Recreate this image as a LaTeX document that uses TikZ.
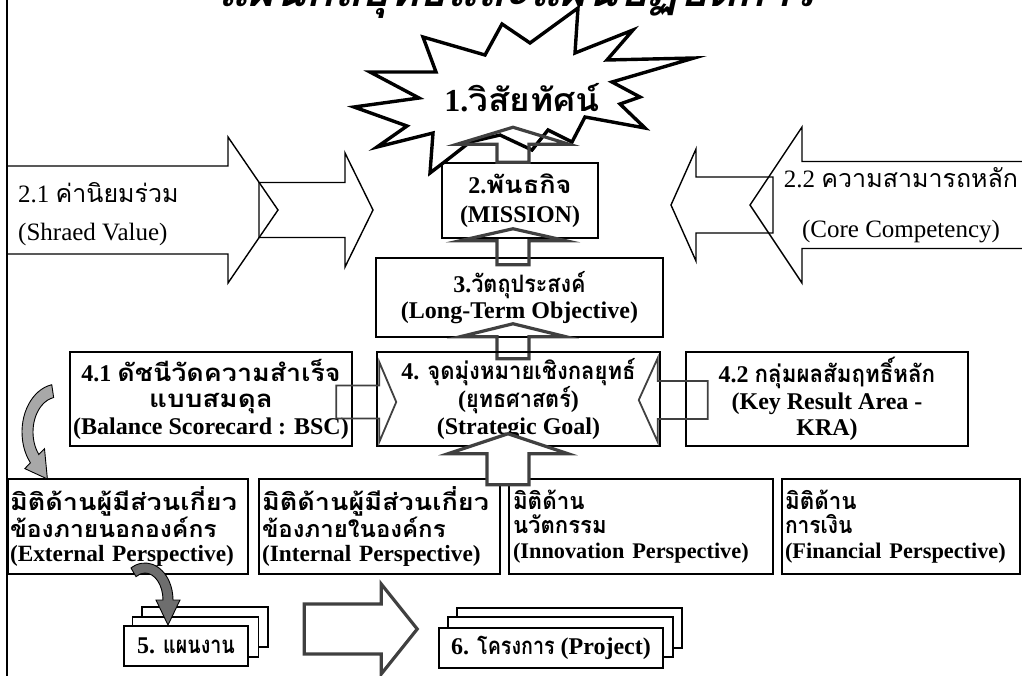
\documentclass[tikz,border=0pt]{standalone}
\usepackage{fontspec}
\usepackage{graphicx}
\usetikzlibrary{calc}
\setmainfont{Liberation Serif}
\newfontfamily\thaifont[Script=Thai]{Loma}
\newfontfamily\thaititlefont[Script=Thai,FakeSlant=0.22]{Loma}
% Thai run, optionally stretched or narrowed horizontally
\newcommand\T[2][1]{\scalebox{#1}[1]{\thaifont #2}}
% slightly narrower Latin line inside a perspective box
\newcommand\narrowline[1]{{\fontsize{22.3}{24.5}\selectfont #1}}
\definecolor{arrowdark}{HTML}{404040}
\definecolor{curvelight}{HTML}{A8A8A8}
\definecolor{curvedark}{HTML}{6E6E6E}
% block arrow drawn pointing right from its tip, then rotated:
% #1 style, #2 tip, #3 angle, #4 total length, #5 head length, #6 half body, #7 half head
\newcommand\blockarrow[7][]{%
  \draw[#1,shift={#2},rotate=#3] (0,0) -- (-#5,#7) -- (-#5,#6) -- (-#4,#6)
    -- (-#4,-#6) -- (-#5,-#6) -- (-#5,-#7) -- cycle;}
\begin{document}
\begin{tikzpicture}[x=1pt,y=-1pt,
  box/.style={draw, line width=1.5pt, inner sep=0pt, align=center,
    font=\fontsize{24}{26.5}\selectfont\bfseries},
  persp/.style={draw, line width=1.5pt, inner sep=0pt, align=left,
    minimum height=95, font=\fontsize{23.3}{24.5}\selectfont\bfseries},
  stackbox/.style={draw, line width=1.5pt, fill=white, inner sep=0pt,
    font=\fontsize{24}{27}\selectfont\bfseries},
  fatarrow/.style={draw=arrowdark, line width=3.2pt, line join=miter},
  thinarrow/.style={draw=arrowdark, line width=1.8pt},
  sidearrow/.style={draw=black, line width=1.4pt},
  sidetext/.style={font=\fontsize{25}{25}\selectfont, inner sep=0pt},
  curvearrow/.style={draw=black, line width=0.9pt}]
\clip (0,0) rectangle (1022,675);

% heading, cut by the top edge
\node[anchor=base, inner sep=0pt] (title) at (517,6)
  {\fontsize{46}{46}\selectfont\bfseries\thaititlefont แผนกลยุทธ์และแผนปฏิบัติการ};

% page frame on the left
\draw[line width=1.5pt] (7,-2) -- (7,677);

% 2.1 shared values: two arrows pointing to the mission
\blockarrow[sidearrow]{(278,210)}{0}{271}{50}{44}{73}
\blockarrow[sidearrow]{(373,210)}{0}{114}{28}{27.5}{57}
\node[sidetext, anchor=base west] (v21a) at (18,202) {2.1 \T{ค่านิยมร่วม}};
\node[sidetext, anchor=base west] (v21b) at (18,240) {(Shraed Value)};

% 2.2 core competency: two arrows pointing left
\blockarrow[sidearrow]{(750,205)}{180}{300}{52}{43.5}{78}
\blockarrow[sidearrow]{(671,205)}{180}{102}{25}{28}{56}
\node[sidetext, anchor=base] (v22a) at (901,187) {2.2 \T{ความสามารถหลัก}};
\node[sidetext, anchor=base] (v22b) at (901,237) {(Core Competency)};

% 1. vision burst
\draw[line width=3.4pt, fill=white, line join=miter]
  (578,8) -- (575,53) -- (633,30) -- (607,60) -- (694,58) -- (612,82)
  -- (640,97) -- (620,104) -- (645,128) -- (585,117) -- (572,142)
  -- (548,130) -- (532,150) -- (500,135) -- (470,142) -- (447,160)
  -- (430,173) -- (433,133) -- (377,147) -- (407,126) -- (354,107)
  -- (419,98) -- (370,72) -- (436,72) -- (423,37) -- (485,55)
  -- (502,24) -- (530,43) -- cycle;
\node[inner sep=0pt] (vision) at (522,98)
  {\fontsize{32}{32}\selectfont\bfseries 1.\T[1.1]{วิสัยทัศน์}};

% central column
\node[box, minimum width=156, minimum height=75] (b2) at (520,200.5)
  {2.\T[1.13]{พันธกิจ}\\[3pt](MISSION)};
\node[box, minimum width=287, minimum height=79] (b3) at (519.5,297.5)
  {3.\T[0.9]{วัตถุประสงค์}\\(Long-Term Objective)};
\blockarrow[fatarrow]{($(b2.north)+(-7,-35)$)}{90}{35}{17}{16}{56}
\blockarrow[fatarrow]{($(b2.south)+(-7,-10)$)}{90}{36}{12}{16}{53}
\blockarrow[fatarrow]{($(b3.south)+(-6.5,-14)$)}{90}{35}{13}{16}{53}

% level 4
\node[box, minimum width=283, minimum height=94] (b4) at (518.5,399)
  {4. \T[0.92]{จุดมุ่งหมายเชิงกลยุทธ์}\\(\T[0.9]{ยุทธศาสตร์})\\(Strategic Goal)};
\node[box, minimum width=282, minimum height=94] (b41) at (211,399)
  {4.1 \T[1.12]{ดัชนีวัดความสำเร็จ}\\\T[1.16]{แบบสมดุล}\\(Balance Scorecard : BSC)};
\node[box, minimum width=282, minimum height=94] (b42) at (827,399)
  {4.2 \T[0.93]{กลุ่มผลสัมฤทธิ์หลัก}\\(Key Result Area -\\KRA)};
\blockarrow[thinarrow]{($(b4.west)+(20,3)$)}{0}{60}{17}{16.5}{40}
\blockarrow[thinarrow]{($(b4.east)+(-22,1)$)}{180}{69}{19}{19}{42}

% perspectives
\node[persp, minimum width=240, text width=236] (p1) at (128,526.5)
  {\T[1.16]{มิติด้านผู้มีส่วนเกี่ยว}\\\T[1.06]{ข้องภายนอกองค์กร}\\(External Perspective)};
\node[persp, minimum width=241, text width=235] (p2) at (379.5,526.5)
  {\T[1.16]{มิติด้านผู้มีส่วนเกี่ยว}\\\T[1.03]{ข้องภายในองค์กร}\\(Internal Perspective)};
\node[persp, minimum width=264, text width=256] (p3) at (641,526.5)
  {\T[0.96]{มิติด้าน}\\\T[0.95]{นวัตกรรม}\\\narrowline{(Innovation Perspective)}};
\node[persp, minimum width=238, text width=232] (p4) at (901,526.5)
  {\T[0.96]{มิติด้าน}\\\T[0.9]{การเงิน}\\\narrowline{(Financial Perspective)}};
\blockarrow[fatarrow, fill=white]{($(b4.south)+(-10.5,-13)$)}{90}{51}{20}{21}{60}

% curved arrow from the scorecard down to the perspectives
\draw[curvearrow, fill=curvelight]
  ($(58,432)+(-100:36 and 48)$) arc[start angle=-100, end angle=-220, x radius=36, y radius=48]
  -- (24.8,468.6) -- (47.4,479) -- (44.5,448.7)
  -- ($(58,432)+(-220:25 and 35)$) arc[start angle=-220, end angle=-100, x radius=25, y radius=35]
  -- cycle;

% 5. plans and 6. projects
\node[stackbox, minimum width=126, minimum height=40] (b5c) at (205,627) {};
\node[stackbox, minimum width=126, minimum height=40] (b5b) at (195.5,637) {};
\node[stackbox, minimum width=124, minimum height=40] (b5) at (186,646) {5. \T[0.82]{แผนงาน}};
\node[stackbox, minimum width=225, minimum height=40] (b6c) at (569.5,628) {};
\node[stackbox, minimum width=225, minimum height=40] (b6b) at (560.5,637) {};
\node[stackbox, minimum width=224, minimum height=40] (b6) at (551,648) {6. \T[0.82]{โครงการ} (Project)};
\blockarrow[fatarrow]{($(b6.west)+(-21,-19)$)}{0}{113}{36}{25}{45}

% curved arrow from the external perspective down to the plans
\draw[curvearrow, fill=curvedark]
  ($(145,600)+(-120:28 and 37)$) arc[start angle=-120, end angle=0, x radius=28, y radius=37]
  -- (180,600) -- (168,625) -- (156,600)
  -- (163,600) arc[start angle=0, end angle=-120, x radius=18, y radius=27]
  -- cycle;
\end{tikzpicture}
\end{document}
